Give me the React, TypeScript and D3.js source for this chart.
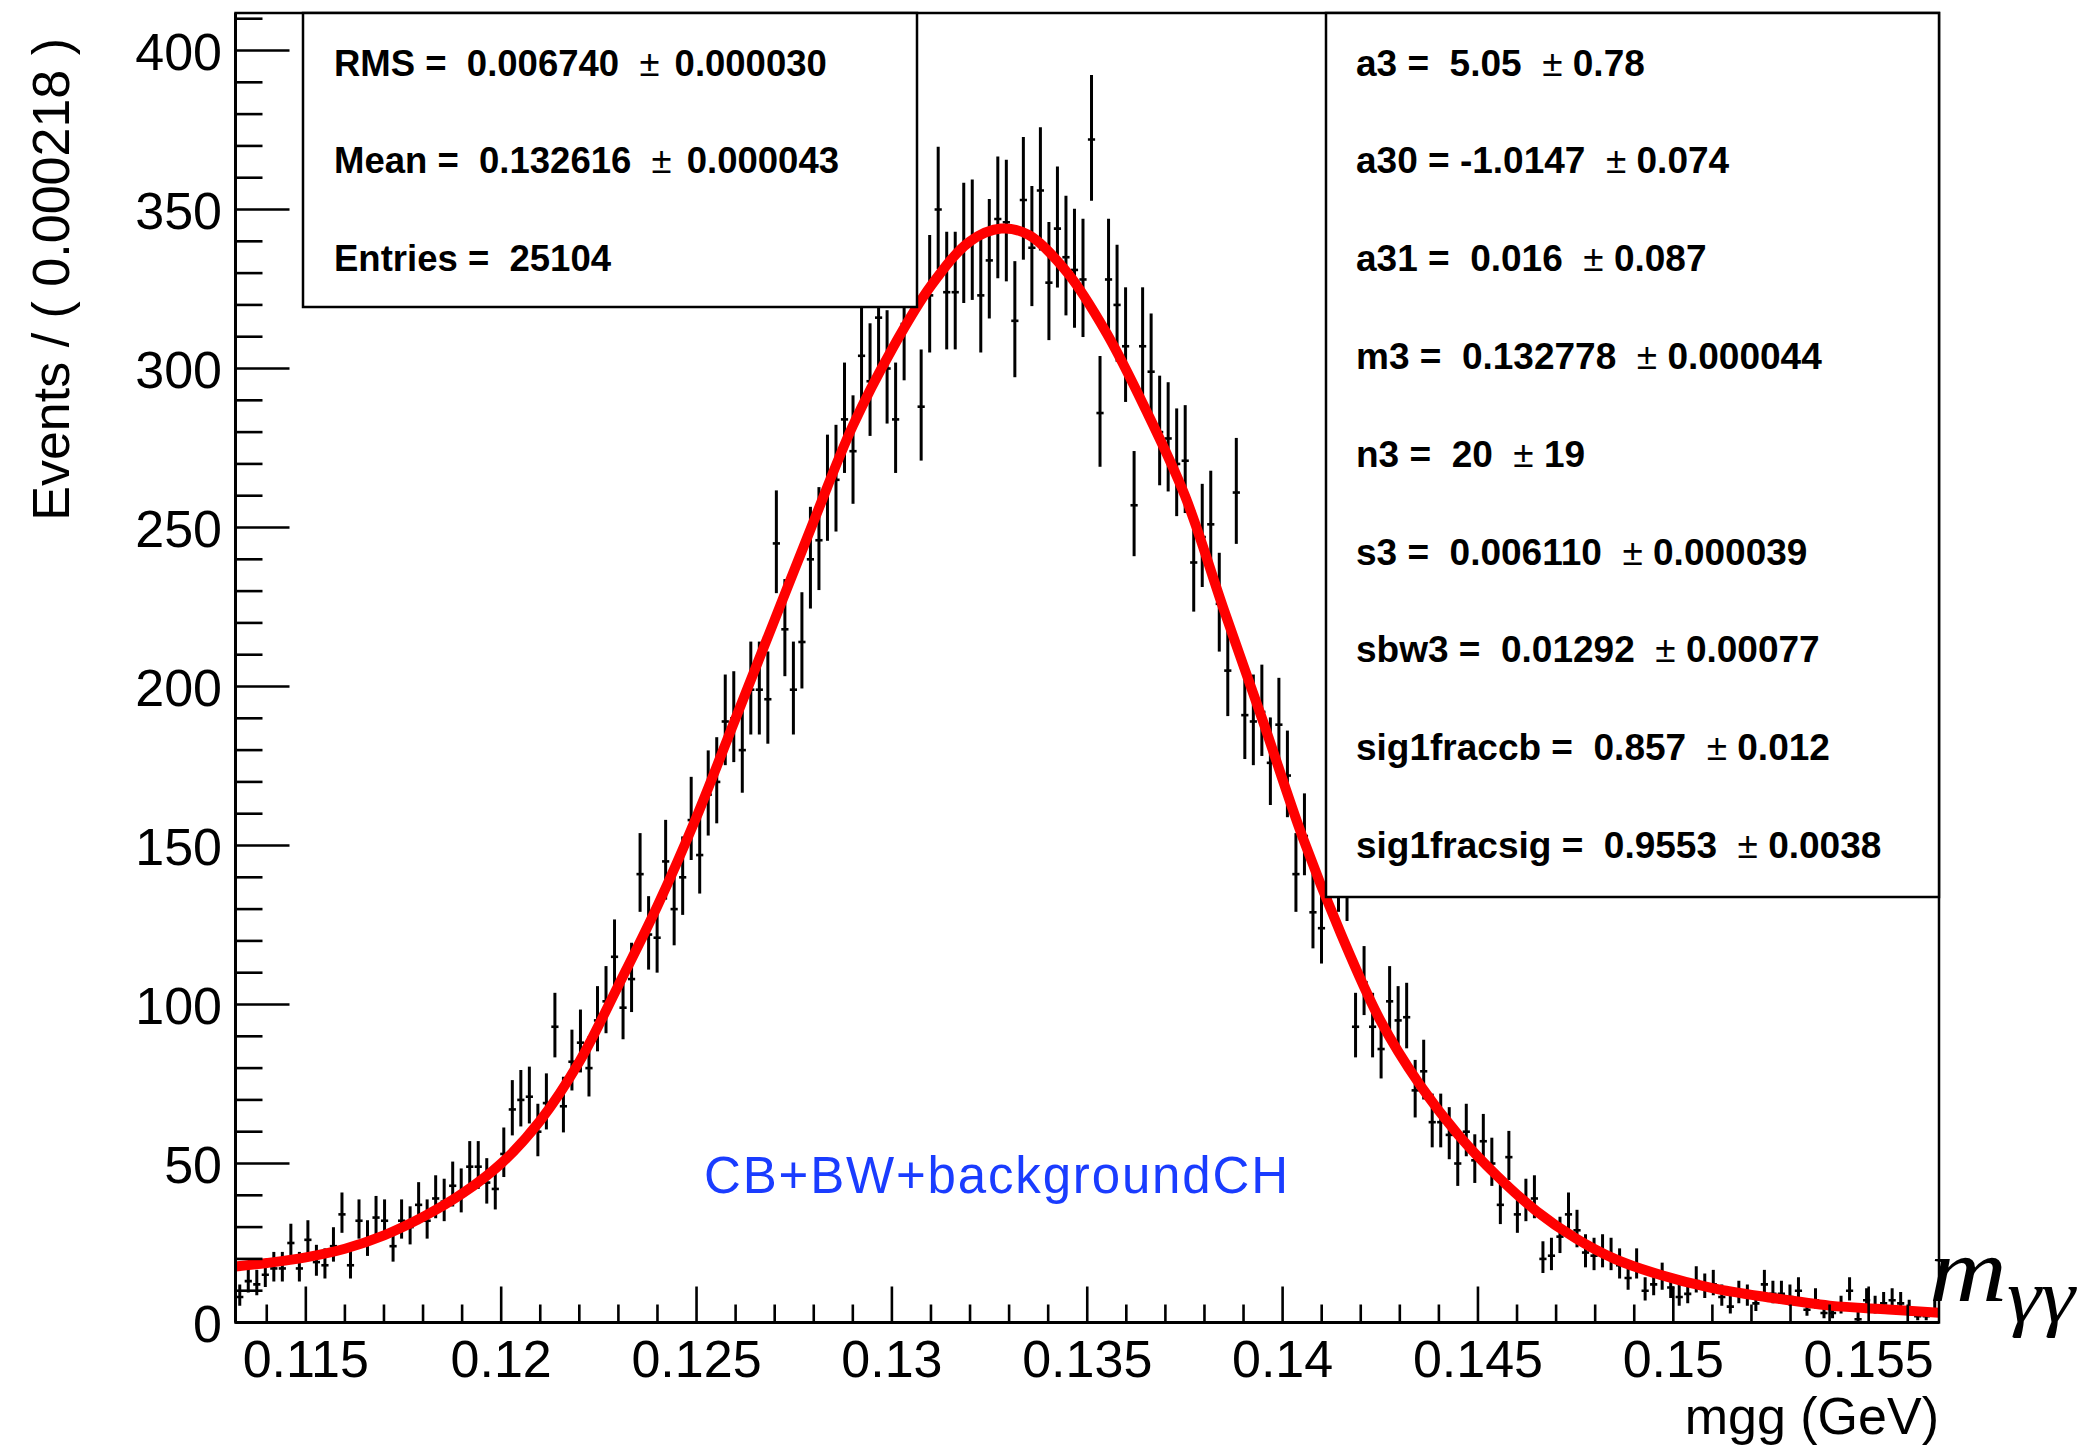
import React from 'react';
import * as d3 from 'd3';

// ---- data ----
const binLow = 0.1132;
const binWidth = 0.000218;
const counts = [
  8, 13, 12, 15, 17, 17, 25, 17, 26, 19,
  18, 24, 34, 18, 32, 26, 33, 32, 24, 32,
  30, 37, 32, 39, 38, 43, 41, 49, 49, 44,
  42, 53, 67, 70, 71, 60, 69, 93, 68, 82,
  88, 80, 95, 101, 115, 99, 108, 141, 122, 121,
  145, 130, 140, 158, 147, 166, 170, 189, 190, 180,
  199, 199, 196, 245, 218, 199, 214, 240, 246, 262,
  265, 284, 274, 304, 296, 316, 300, 284, 314, 342,
  288, 323, 350, 324, 324, 339, 340, 323, 334, 347,
  346, 315, 353, 338, 356, 327, 344, 335, 331, 328,
  372, 286, 328, 320, 307, 257, 307, 299, 280, 278,
  270, 271, 239, 247, 251, 226, 205, 261, 191, 189,
  192, 176, 188, 172, 141, 153, 129, 124, 140, 141,
  138, 93, 107, 93, 86, 101, 95, 96, 73, 79,
  63, 63, 59, 50, 60, 51, 57, 50, 37, 52,
  34, 38, 39, 20, 21, 27, 34, 29, 22, 21,
  22, 21, 18, 14, 18, 10, 12, 14, 11, 8,
  9, 13, 11, 12, 8, 5, 9, 8, 6, 12,
  9, 9, 8, 10, 4, 7, 3, 3, 5, 10,
  1, 7, 5, 6, 7, 6, 4, 2, 2, 4,
];

const curveX = [0.1132, 0.1140, 0.1150, 0.1160, 0.1170, 0.1180, 0.1190, 0.1200, 0.1210, 0.1220,
  0.1230, 0.1240, 0.1250, 0.1260, 0.1270, 0.1280, 0.1290, 0.1300, 0.1310, 0.1320,
  0.1328, 0.1335, 0.1345, 0.1355, 0.1365, 0.1375, 0.1385, 0.1395, 0.1405, 0.1415,
  0.1425, 0.1435, 0.1445, 0.1455, 0.1465, 0.1475, 0.1485, 0.1495, 0.1510, 0.1525,
  0.1540, 0.1555, 0.1568];
const curveY = [17.6, 18.7, 20.5, 23.2, 27.4, 33.2, 40.5, 50, 63.5, 82,
  106, 131, 159, 190, 221, 252, 282, 306, 326, 340,
  344, 342, 330, 311, 287, 260, 224, 189, 153, 122,
  95, 75, 59, 46, 35, 26.5, 20, 15.6, 10.8, 7.8,
  5.3, 4.1, 3.1];

const xTickValues = [0.115, 0.12, 0.125, 0.13, 0.135, 0.14, 0.145, 0.15, 0.155];
const xTickLabels = ['0.115', '0.12', '0.125', '0.13', '0.135', '0.14', '0.145', '0.15', '0.155'];
const yTickValues = [0, 50, 100, 150, 200, 250, 300, 350, 400];
const yTickLabels = ['0', '50', '100', '150', '200', '250', '300', '350', '400'];

const statNames = ['RMS', 'Mean', 'Entries'];
const statValues = ['0.006740', '0.132616', '25104'];
const statErrors = ['0.000030', '0.000043', ''];

const paramNames = ['a3', 'a30', 'a31', 'm3', 'n3', 's3', 'sbw3', 'sig1fraccb', 'sig1fracsig'];
const paramValues = ['5.05', '-1.0147', '0.016', '0.132778', '20', '0.006110', '0.01292', '0.857', '0.9553'];
const paramErrors = ['0.78', '0.074', '0.087', '0.000044', '19', '0.000039', '0.00077', '0.012', '0.0038'];

const xTitle = 'mgg (GeV)';
const yTitle = 'Events / ( 0.000218 )';
const modelLabel = 'CB+BW+backgroundCH';

// ---- layout ----
const W = 2086;
const H = 1447;
const F = { left: 235.5, right: 1939, top: 13, bottom: 1322.5 };
const SANS = '"Liberation Sans", Arial, Helvetica, sans-serif';
const SERIF = '"Liberation Serif", "DejaVu Serif", "Times New Roman", serif';

function poissonLow(n: number) {
  if (n <= 0) return 0;
  const v = n * Math.pow(1 - 1 / (9 * n) - 1 / (3 * Math.sqrt(n)), 3);
  return Math.max(0, v);
}
function poissonHigh(n: number) {
  const m = n + 1;
  return m * Math.pow(1 - 1 / (9 * m) + 1 / (3 * Math.sqrt(m)), 3);
}

export default function App() {
  const x = d3.scaleLinear().domain([binLow, binLow + counts.length * binWidth]).range([F.left, F.right]);
  const y = d3.scaleLinear().domain([0, 411.8]).range([F.bottom, F.top]);

  const line = d3
    .line<number>()
    .x((_, i) => x(curveX[i]))
    .y((d) => y(d))
    .curve(d3.curveCatmullRom.alpha(0.5));

  const xMinor = d3.range(114, 157).map((v) => v / 1000);
  const yMinor = d3.range(0, 411, 10);

  const lineGap = 97.8;
  const firstBase = 75.5;

  return (
    <svg
      width={W}
      height={H}
      viewBox={`0 0 ${W} ${H}`}
      style={{ position: 'absolute', left: 0, top: 0, background: '#fff' }}
    >
      <rect x={0} y={0} width={W} height={H} fill="#fff" />
      <defs>
        <clipPath id="frameClip">
          <rect x={F.left} y={F.top} width={F.right - F.left} height={F.bottom - F.top} />
        </clipPath>
      </defs>

      {/* data points */}
      <g clipPath="url(#frameClip)" stroke="#000">
        {counts.map((n, i) => {
          const cx = x(binLow + (i + 0.5) * binWidth);
          return (
            <g key={i}>
              <line x1={cx} x2={cx} y1={y(poissonHigh(n))} y2={y(poissonLow(n))} strokeWidth={3} />
              <line x1={cx - 3.6} x2={cx + 3.6} y1={y(n)} y2={y(n)} strokeWidth={2.6} />
            </g>
          );
        })}
        <path d={line(curveY) || ''} fill="none" stroke="#ff0000" strokeWidth={10} strokeLinejoin="round" />
      </g>

      {/* frame */}
      <rect x={F.left} y={F.top} width={F.right - F.left} height={F.bottom - F.top} fill="none" stroke="#000" strokeWidth={2.5} />

      {/* ticks */}
      <g stroke="#000" strokeWidth={2.6}>
        {xMinor.map((v, i) => {
          const major = xTickValues.some((t) => Math.abs(t - v) < 1e-7);
          return <line key={i} x1={x(v)} x2={x(v)} y1={F.bottom} y2={F.bottom - (major ? 36 : 18)} />;
        })}
        {yMinor.map((v, i) => {
          const major = v % 50 === 0;
          return <line key={i} x1={F.left} x2={F.left + (major ? 54 : 27)} y1={y(v)} y2={y(v)} />;
        })}
      </g>
      <line x1={F.left} x2={F.right} y1={F.bottom} y2={F.bottom} stroke="#000" strokeWidth={3.2} />
      <line x1={F.left} x2={F.left} y1={F.top} y2={F.bottom} stroke="#000" strokeWidth={3} />

      {/* tick labels */}
      <g fontFamily={SANS} fontSize={52} fill="#000">
        {xTickValues.map((v, i) => (
          <text key={i} x={x(v)} y={1377} textAnchor="middle">
            {xTickLabels[i]}
          </text>
        ))}
        {yTickValues.map((v, i) => (
          <text key={i} x={222} y={y(v) + 19} textAnchor="end">
            {yTickLabels[i]}
          </text>
        ))}
      </g>

      {/* axis titles */}
      <text x={F.right} y={1434} textAnchor="end" fontFamily={SANS} fontSize={52}>
        {xTitle}
      </text>
      <text transform="translate(69,38) rotate(-90)" textAnchor="end" fontFamily={SANS} fontSize={52}>
        {yTitle}
      </text>

      {/* model label */}
      <text x={704} y={1193} fontFamily={SANS} fontSize={51} fill="#1a3cff" fontWeight={300} textLength={584} lengthAdjust="spacing">
        {modelLabel}
      </text>

      {/* m_gammagamma label */}
      <text fontFamily={SERIF} fontStyle="italic" fill="#000">
        <tspan x={1929} y={1301} fontSize={92} textLength={78} lengthAdjust="spacingAndGlyphs">m</tspan>
        <tspan x={2007} y={1322} fontSize={76} textLength={68} lengthAdjust="spacingAndGlyphs">γγ</tspan>
      </text>

      {/* stat box (left) */}
      <rect x={303} y={F.top} width={917 - 303} height={307 - F.top} fill="#fff" stroke="#000" strokeWidth={2.5} />
      <g fontFamily={SANS} fontSize={36.5} fontWeight="bold" fill="#000">
        {statNames.map((nm, i) => (
          <text key={i} x={334} y={firstBase + i * lineGap} style={{ whiteSpace: 'pre' }}>
            <tspan>{`${nm} =  ${statValues[i]}`}</tspan>
            {statErrors[i] ? (
              <>
                <tspan>{'  '}</tspan>
                <tspan fontWeight="normal">±</tspan>
                <tspan dx={5}>{` ${statErrors[i]}`}</tspan>
              </>
            ) : null}
          </text>
        ))}
      </g>

      {/* parameter box (right) */}
      <rect x={1326} y={F.top} width={F.right - 1326} height={897 - F.top} fill="#fff" stroke="#000" strokeWidth={2.5} />
      <g fontFamily={SANS} fontSize={37} fontWeight="bold" fill="#000">
        {paramNames.map((nm, i) => {
          const v = paramValues[i];
          const sep = v.startsWith('-') ? ' = ' : ' =  ';
          return (
            <text key={i} x={1356} y={firstBase + i * lineGap} style={{ whiteSpace: 'pre' }}>
              <tspan>{`${nm}${sep}${v}  `}</tspan>
              <tspan fontWeight="normal">±</tspan>
              <tspan>{` ${paramErrors[i]}`}</tspan>
            </text>
          );
        })}
      </g>
    </svg>
  );
}
